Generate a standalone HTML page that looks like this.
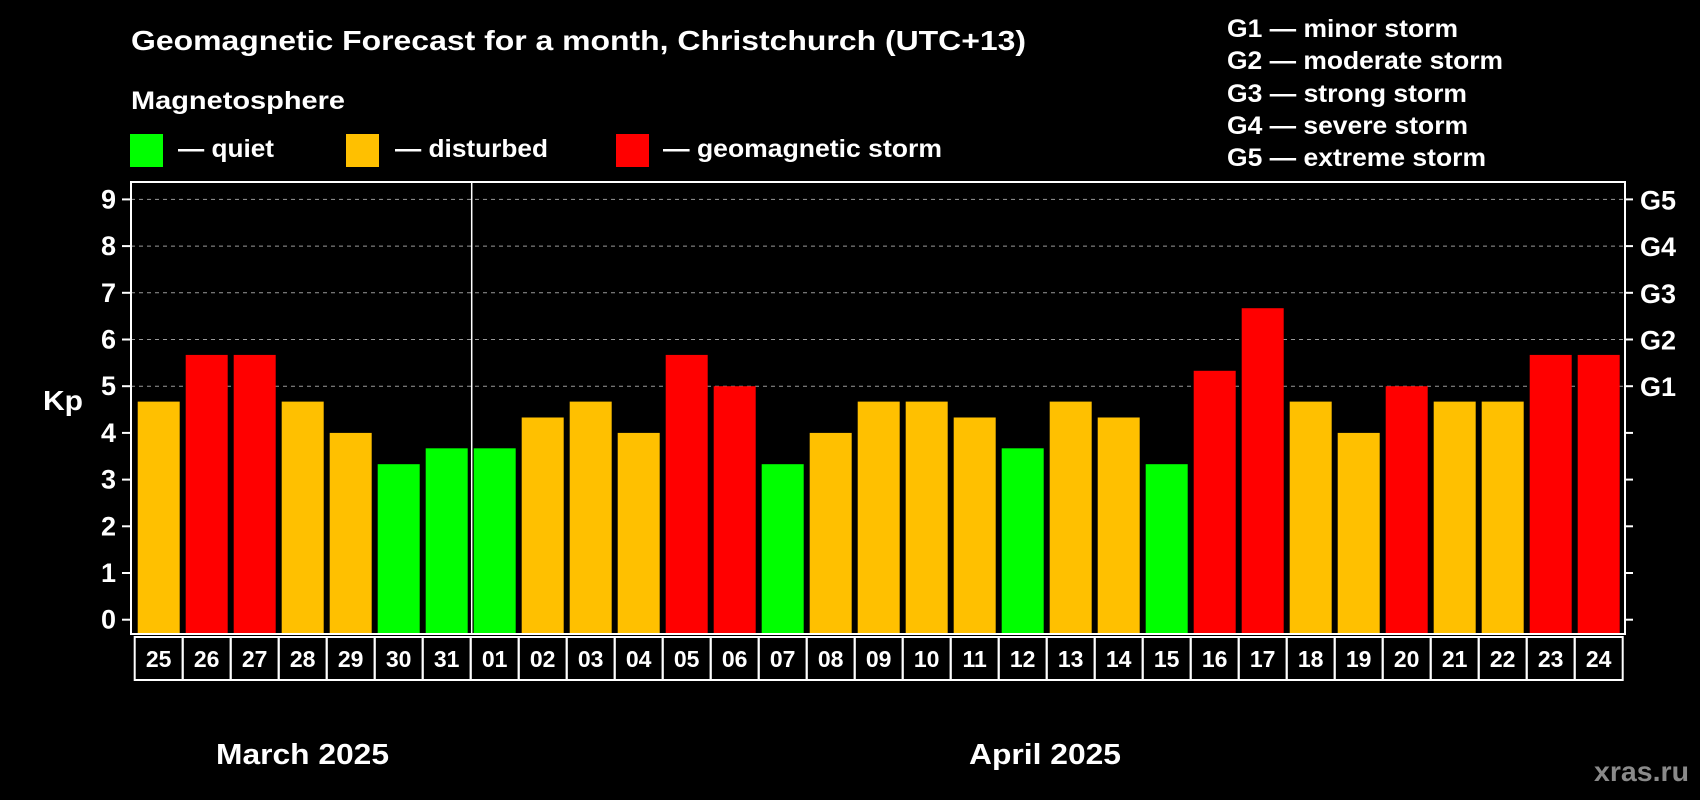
<!DOCTYPE html>
<html><head><meta charset="utf-8"><style>
html,body{margin:0;padding:0;background:#000;}
svg{display:block;font-family:"Liberation Sans",Arial,sans-serif;font-weight:bold;}
</style></head><body>
<svg id="chart" width="1700" height="800" viewBox="0 0 1700 800">
<text x="131" y="50" fill="#fff" font-size="28" textLength="895" lengthAdjust="spacingAndGlyphs">Geomagnetic Forecast for a month, Christchurch (UTC+13)</text>
<text x="131" y="109" fill="#fff" font-size="25" textLength="214" lengthAdjust="spacingAndGlyphs">Magnetosphere</text>
<g><rect x="130" y="134" width="33" height="33" fill="#00ff00"/><text x="178" y="157" fill="#fff" font-size="25" textLength="96" lengthAdjust="spacingAndGlyphs">— quiet</text></g>
<g><rect x="346" y="134" width="33" height="33" fill="#ffc000"/><text x="395" y="157" fill="#fff" font-size="25" textLength="153" lengthAdjust="spacingAndGlyphs">— disturbed</text></g>
<g><rect x="616" y="134" width="33" height="33" fill="#ff0000"/><text x="663" y="157" fill="#fff" font-size="25" textLength="279" lengthAdjust="spacingAndGlyphs">— geomagnetic storm</text></g>
<g fill="#fff" font-size="25">
<text x="1227" y="37" textLength="231" lengthAdjust="spacingAndGlyphs">G1 — minor storm</text>
<text x="1227" y="69" textLength="276" lengthAdjust="spacingAndGlyphs">G2 — moderate storm</text>
<text x="1227" y="102" textLength="240" lengthAdjust="spacingAndGlyphs">G3 — strong storm</text>
<text x="1227" y="134" textLength="241" lengthAdjust="spacingAndGlyphs">G4 — severe storm</text>
<text x="1227" y="166" textLength="259" lengthAdjust="spacingAndGlyphs">G5 — extreme storm</text>
</g>
<text x="43" y="410" fill="#fff" font-size="28" textLength="40" lengthAdjust="spacingAndGlyphs">Kp</text>
<g id="grid"></g><g id="bars"></g><g id="axes"></g><g id="labels"></g>
<text x="216" y="764" fill="#fff" font-size="29" textLength="173" lengthAdjust="spacingAndGlyphs">March 2025</text>
<text x="969" y="764" fill="#fff" font-size="29" textLength="152" lengthAdjust="spacingAndGlyphs">April 2025</text>
<text x="1594" y="781" fill="#8a8a8a" font-size="28" textLength="95" lengthAdjust="spacingAndGlyphs">xras.ru</text>
</svg>
<script>
const days=["25","26","27","28","29","30","31","01","02","03","04","05","06","07","08","09","10","11","12","13","14","15","16","17","18","19","20","21","22","23","24"];
const kp=[4.67,5.67,5.67,4.67,4,3.33,3.67,3.67,4.33,4.67,4,5.67,5,3.33,4,4.67,4.67,4.33,3.67,4.67,4.33,3.33,5.33,6.67,4.67,4,5,4.67,4.67,5.67,5.67];
const yTicks=[0,1,2,3,4,5,6,7,8,9];
const gLabels=["G1","G2","G3","G4","G5"];
const NS="http://www.w3.org/2000/svg";
const L=131,R=1625,T=182,B=634,y0=619.7,unit=46.7,x0=134.7,pitch=48.0;
const y=v=>y0-v*unit;
const x=i=>x0+i*pitch;
function mk(tag,at,parent){const e=document.createElementNS(NS,tag);for(const k in at)e.setAttribute(k,at[k]);document.getElementById(parent).appendChild(e);return e;}
yTicks.forEach(v=>{
 if(v>=5){const g=mk('line',{x1:L,x2:R,y1:y(v),y2:y(v),stroke:'#999','stroke-dasharray':'4,4','stroke-width':1},'grid');
 
 }
 const t=mk('line',{x1:L-9,x2:L,y1:y(v),y2:y(v),stroke:'#fff','stroke-width':2},'axes');
 
 
 const t2=mk('line',{x1:R,x2:R+8,y1:y(v),y2:y(v),stroke:'#fff','stroke-width':2},'axes');
 
 
 const lb=mk('text',{x:116,y:y(v)+9,fill:'#fff','font-size':27,'text-anchor':'end'},'axes');lb.textContent=v;
 
 
});
gLabels.forEach((g,i)=>{const t=mk('text',{x:1640,y:y(5+i)+10,fill:'#fff','font-size':27},'axes');t.textContent=g;
 
 });
kp.forEach((v,i)=>{
 const c=v<4?'#00ff00':(v<5?'#ffc000':'#ff0000');
 const b=mk('rect',{x:x(i)+3,y:y(v),width:42,height:B-y(v),fill:c},'bars');
 
 
 const cell=mk('rect',{x:x(i),y:637,width:pitch,height:43,fill:'none',stroke:'#fff','stroke-width':2},'labels');
 
 
 const t=mk('text',{x:x(i)+pitch/2,y:667,fill:'#fff','font-size':23,'text-anchor':'middle'},'labels');t.textContent=days[i];
 
 
});
const fr=mk('rect',{x:L,y:T,width:R-L,height:B-T,fill:'none',stroke:'#fff','stroke-width':2},'axes');


const sep=mk('line',{x1:x(7)+1,x2:x(7)+1,y1:T,y2:B,stroke:'#fff','stroke-width':1.5},'axes');


</script>
</body></html>
